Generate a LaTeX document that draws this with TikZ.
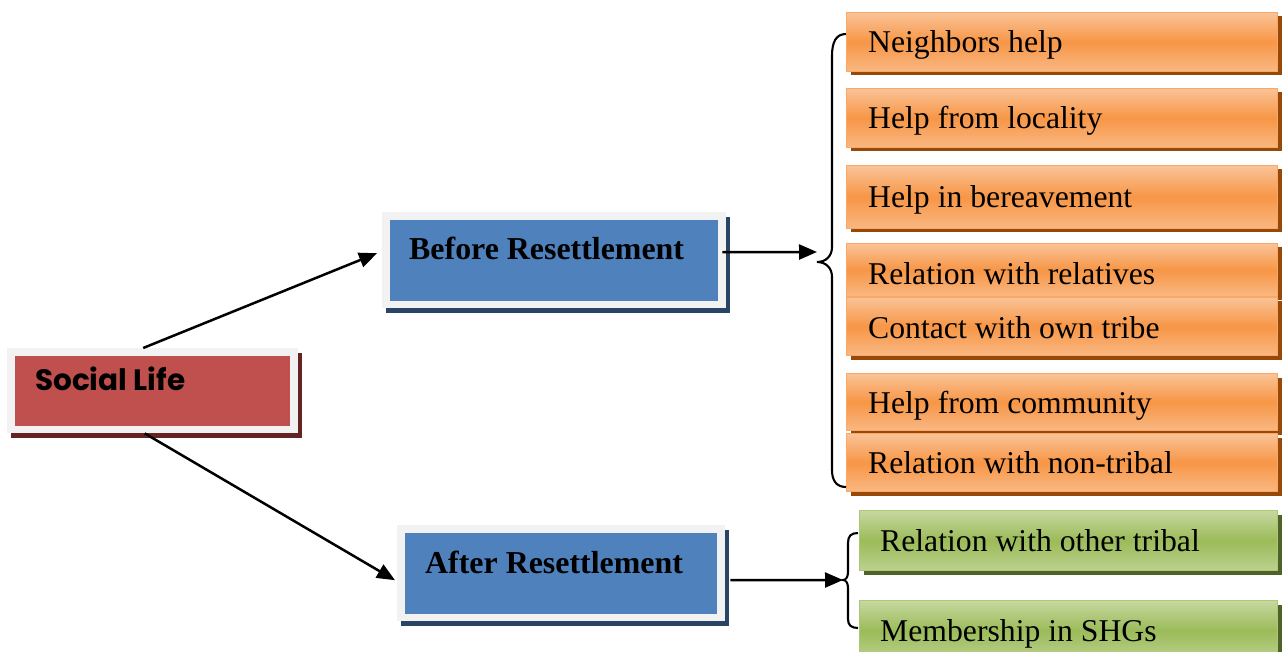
\documentclass[tikz,border=0pt]{standalone}
\usepackage{fontspec}
\setmainfont{Liberation Serif}
\newfontfamily\geofont{Poppins}
\usetikzlibrary{arrows.meta,shadows,calc}

\definecolor{frameGrey}{HTML}{F2F2F2}
\definecolor{socialRed}{HTML}{C0504D}
\definecolor{redShade}{HTML}{632423}
\definecolor{stageBlue}{HTML}{4F81BD}
\definecolor{blueShade}{HTML}{2A4466}
\definecolor{orangeMain}{HTML}{F79646}
\definecolor{orangeLight}{HTML}{FAC397}
\definecolor{orangeEdge}{HTML}{F9A868}
\definecolor{orangeShade}{HTML}{984807}
\definecolor{greenMain}{HTML}{9BBB59}
\definecolor{greenLight}{HTML}{C6D9A0}
\definecolor{greenEdge}{HTML}{AFC878}
\definecolor{greenShade}{HTML}{4F6228}

\tikzset{
  % grey-framed stage box with coloured panel and a hard drop shadow
  framebox/.style 2 args={fill=frameGrey, inner sep=0pt, anchor=north west,
    drop shadow={shadow xshift=4pt, shadow yshift=-5pt, fill=#2, opacity=1},
    path picture={\fill[#1]
      ([shift={(8pt,-8pt)}]path picture bounding box.north west) rectangle
      ([shift={(-8pt,7pt)}]path picture bounding box.south east);}},
  % shaded item box
  itembox/.style n args={4}{draw=#3, line width=1pt, inner sep=0pt, anchor=north west,
    top color=#2, bottom color=#2!75!#1, middle color=#1,
    drop shadow={shadow xshift=4pt, shadow yshift=-4pt, fill=#4, opacity=1}},
  orangebox/.style={itembox={orangeMain}{orangeLight}{orangeEdge}{orangeShade},
    minimum width=431pt},
  greenbox/.style={itembox={greenMain}{greenLight}{greenEdge}{greenShade},
    minimum width=418pt, minimum height=60pt},
  itemtext/.style={anchor=base west, inner sep=0pt,
    font=\fontsize{31.7}{38}\selectfont},
  stagetext/.style={anchor=base west, inner sep=0pt,
    font=\fontsize{31.9}{38}\selectfont\bfseries},
  arr/.style={-{Triangle[length=18pt,width=15pt]}, line width=2.5pt},
  bracepath/.style={line width=2.1pt},
}

\begin{document}
\begin{tikzpicture}[x=1pt,y=-1pt]
\useasboundingbox (0,0) rectangle (1285,652);

% main topic
\node[framebox={socialRed}{redShade}, minimum width=291pt, minimum height=85pt] (social) at (7,348) {};
\node[anchor=base west, inner sep=0pt, font=\geofont\bfseries\fontsize{29.5}{35}\selectfont] (socialText) at (35,390) {Social Life};

% stages
\node[framebox={stageBlue}{blueShade}, minimum width=344pt, minimum height=96pt] (before) at (382,212) {};
\node[stagetext] (beforeText) at (409,260) {Before Resettlement};
\node[framebox={stageBlue}{blueShade}, minimum width=328pt, minimum height=96pt] (after) at (397,525) {};
\node[stagetext] (afterText) at (425,573) {After Resettlement};

% items before resettlement
\node[orangebox, minimum height=59pt] (o1) at (846,12) {};
\node[itemtext] (o1t) at (868,53) {Neighbors help};
\node[orangebox, minimum height=59pt] (o2) at (846,88) {};
\node[itemtext] (o2t) at (868,129) {Help from locality};
\node[orangebox, minimum height=63pt] (o3) at (846,165) {};
\node[itemtext] (o3t) at (868,208) {Help in bereavement};
\node[orangebox, minimum height=53pt] (o4) at (846,243) {};
\node[itemtext] (o4t) at (868,285) {Relation with relatives};
\node[orangebox, minimum height=58pt] (o5) at (846,297) {};
\node[itemtext] (o5t) at (868,338) {Contact with own tribe};
\node[orangebox, minimum height=57pt] (o6) at (846,373) {};
\node[itemtext] (o6t) at (868,413) {Help from community};
\node[orangebox, minimum height=58pt] (o7) at (846,433) {};
\node[itemtext] (o7t) at (868,473) {Relation with non-tribal};

% items after resettlement
\node[greenbox] (g1) at (859,510) {};
\node[itemtext] (g1t) at (880,551) {Relation with other tribal};
\node[greenbox] (g2) at (859,600) {};
\node[itemtext] (g2t) at (880,641) {Membership in SHGs};

% braces
\coordinate (bTop) at (846,34);
\coordinate (bTip) at (817,262);
\coordinate (bBot) at (846,487);
\coordinate (bArrowTip) at (817,252);
\draw[bracepath] (bTop) .. controls (836,34) and (832,42) .. (832,56)
  -- (832,247) .. controls (832,256) and (826,262) .. (bTip)
  .. controls (826,262) and (832,268) .. (832,277)
  -- (832,470) .. controls (832,480) and (836,487) .. (bBot);

\coordinate (gTop) at (858,533);
\coordinate (gTip) at (843,580);
\coordinate (gBot) at (858,628);
\draw[bracepath] (gTop) .. controls (851,533) and (848,536) .. (848,543)
  -- (848,572) .. controls (848,577) and (846,580) .. (gTip)
  .. controls (846,580) and (848,583) .. (848,588)
  -- (848,619) .. controls (848,625) and (851,628) .. (gBot);

% connectors
\draw[arr] ([xshift=-9.5pt]social.north) -- ([shift={(-5pt,7pt)}]before.west);
\draw[arr] ([xshift=-8pt]social.south) -- ([shift={(-2pt,-7pt)}]after.west);
\draw[arr] ([shift={(-4pt,8pt)}]before.east) -- (bArrowTip);
\draw[arr] ([shift={(5pt,-7pt)}]after.east) -- (gTip);
\end{tikzpicture}
\end{document}
